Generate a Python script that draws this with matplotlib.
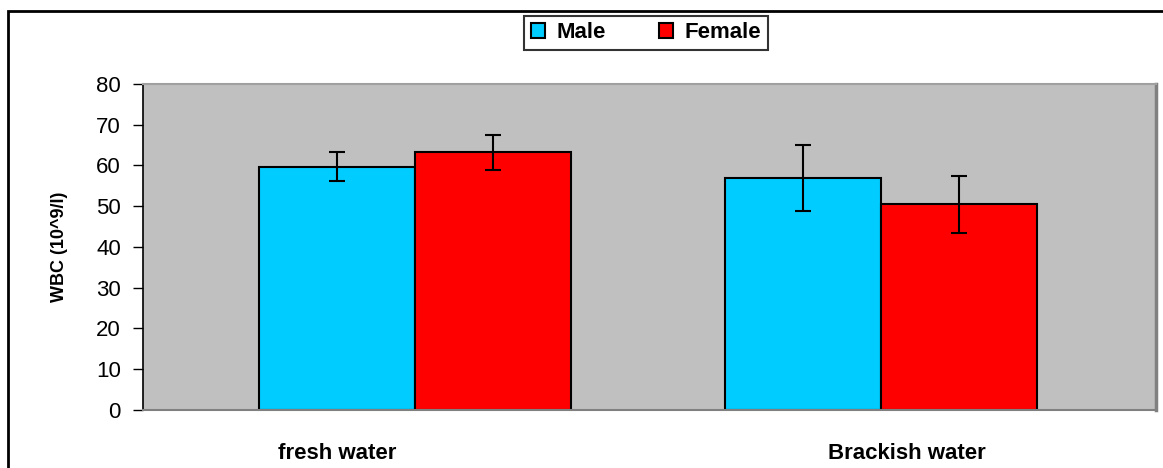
"""
WBC bar chart, male vs female, fresh and brackish water
"""

import numpy as np
import matplotlib
matplotlib.use("Agg")
import matplotlib.pyplot as plt
from matplotlib.patches import Rectangle

plt.rcParams['font.family'] = ['Liberation Sans', 'DejaVu Sans']

# data
groups = ['fresh water', 'Brackish water']
series = ['Male', 'Female']
male_vals = [59.7, 57.0]
female_vals = [63.2, 50.4]
male_err = [3.5, 8.1]
female_err = [4.3, 6.9]
yticks = [0, 10, 20, 30, 40, 50, 60, 70, 80]

colors = ['#00CCFF', '#FF0000']
width = 0.335

fig = plt.figure(figsize=(11.63, 4.68), dpi=100)
ax = fig.add_axes([0.123, 0.124, 0.871, 0.697])
ax.set_facecolor('#C0C0C0')

x = np.arange(len(groups))
err_kw = dict(ecolor='black', elinewidth=1.5, capsize=6, capthick=1.5)
ax.bar(x - width / 2, male_vals, width, yerr=male_err, color=colors[0],
       edgecolor='black', linewidth=1.5, label=series[0], error_kw=err_kw)
ax.bar(x + width / 2, female_vals, width, yerr=female_err, color=colors[1],
       edgecolor='black', linewidth=1.5, label=series[1], error_kw=err_kw)

ax.set_xlim(-0.584, 1.59)
ax.set_ylim(0, 80)
ax.set_yticks(yticks)
ax.tick_params(axis='y', direction='out', length=7, width=1, pad=9,
               labelsize=16)

# category labels sit a bit off the group centres in the original
ax.set_xticks([x[0] - 0.167, x[1] + 0.056])
ax.set_xticklabels(groups, fontsize=16, fontweight='bold')
ax.tick_params(axis='x', length=0, pad=24)

ax.set_ylabel('WBC (10^9/l)', fontsize=13, fontweight='bold', labelpad=20)

ax.spines['left'].set_color('black')
ax.spines['left'].set_linewidth(1.2)
ax.spines['bottom'].set_color('#808080')
ax.spines['bottom'].set_linewidth(1.5)
ax.spines['top'].set_color('#A0A0A0')
ax.spines['top'].set_linewidth(1.5)
ax.spines['right'].set_color('#808080')
ax.spines['right'].set_linewidth(2.5)

leg = fig.legend(loc='center', bbox_to_anchor=(646 / 1163, 1 - 33 / 468),
                 ncol=2, prop={'weight': 'bold', 'size': 16},
                 frameon=True, fancybox=False, edgecolor='black',
                 handlelength=0.65, handleheight=0.65, columnspacing=2.4,
                 handletextpad=0.5, borderpad=0.3, borderaxespad=0)
leg.get_frame().set_linewidth(1.5)

# outer chart border (runs off the right and bottom edge)
fig.patches.append(Rectangle((8 / 1163, -0.05), 1.1, 1 - 11 / 468 + 0.05,
                             transform=fig.transFigure, fill=False,
                             edgecolor='black', linewidth=2))

fig.savefig('out.png', dpi=100)
